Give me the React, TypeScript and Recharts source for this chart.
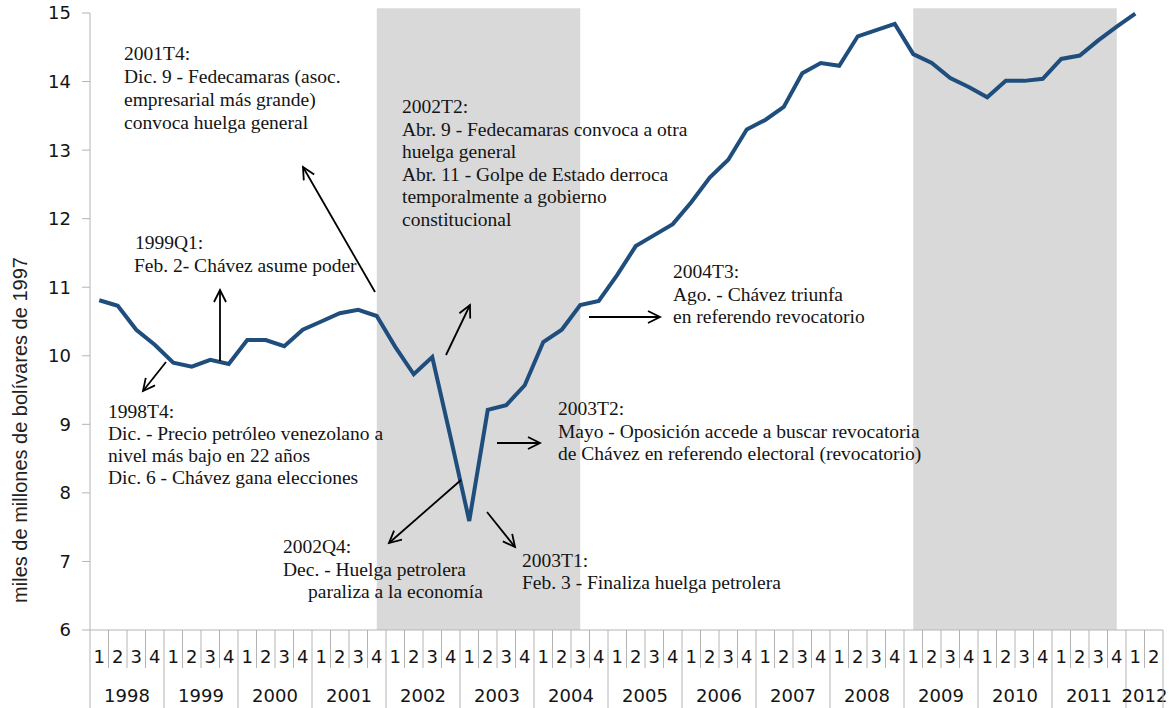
import React from 'react';
import { LineChart, Line, XAxis, YAxis, ReferenceArea } from 'recharts';

const years = [1998, 1999, 2000, 2001, 2002, 2003, 2004, 2005, 2006, 2007, 2008, 2009, 2010, 2011, 2012];
const quartersPerYear = [4, 4, 4, 4, 4, 4, 4, 4, 4, 4, 4, 4, 4, 4, 2];
const categories: string[] = years.flatMap((y, i) =>
  Array.from({ length: quartersPerYear[i] }, (_, q) => `${y}Q${q + 1}`)
);

const gdp: (number | null)[] = [
  10.81, 10.73, 10.38, 10.16,
  9.9, 9.84, 9.94, 9.88,
  10.23, 10.23, 10.14, 10.38,
  10.5, 10.62, 10.67, 10.58,
  10.13, 9.73, 9.98, 8.8,
  7.59, 9.21, 9.28, 9.57,
  10.2, 10.38, 10.74, 10.8,
  11.18, 11.6, 11.76, 11.92,
  12.24, 12.6, 12.86, 13.3,
  13.44, 13.63, 14.12, 14.27,
  14.23, 14.66, 14.75, 14.84,
  14.4, 14.27, 14.05, 13.92,
  13.77, 14.01, 14.01, 14.04,
  14.33, 14.38, 14.6, 14.8,
  14.99, null,
];

const yTicks = [6, 7, 8, 9, 10, 11, 12, 13, 14, 15];

// shaded periods
const shaded = [
  { from: '2001Q4', to: '2004Q3' },
  { from: '2009Q1', to: '2011Q4' },
];

const data = categories.map((period, i) => ({ period, gdp: gdp[i] }));

const WIDTH = 1172;
const HEIGHT = 708;
const Y_AXIS_W = 90;
const MARGIN = { top: 13, right: 9, left: 0, bottom: 0 };
const STEP = (WIDTH - Y_AXIS_W - MARGIN.right) / categories.length;
const GRID = '#b4b4b4';
const TEXT = '#141414';
const SANS = '"DejaVu Sans", Verdana, sans-serif';
const SERIF = '"Liberation Serif", "Times New Roman", serif';

const QuarterTick = (props: any) => {
  const { x, y, payload } = props;
  const idx = payload.index ?? props.index;
  const v: string = payload.value;
  return (
    <g>
      <line x1={x - STEP / 2} x2={x - STEP / 2} y1={y} y2={y + 38} stroke={GRID} />
      {idx === categories.length - 1 && (
        <line x1={x + STEP / 2} x2={x + STEP / 2} y1={y} y2={y + 38} stroke={GRID} />
      )}
      <text x={x} y={y + 33} textAnchor="middle" fontFamily={SANS} fontSize={18} fill={TEXT}>
        {v.slice(-1)}
      </text>
    </g>
  );
};

const YearTick = (props: any) => {
  const { x, y, payload } = props;
  const idx = payload.index ?? props.index;
  const v: string = payload.value;
  const year = Number(v.slice(0, 4));
  const n = quartersPerYear[years.indexOf(year)];
  const first = v.endsWith('Q1');
  return (
    <g>
      {first && <line x1={x - STEP / 2} x2={x - STEP / 2} y1={y} y2={y + 40} stroke={GRID} />}
      {idx === categories.length - 1 && (
        <line x1={x + STEP / 2} x2={x + STEP / 2} y1={y} y2={y + 40} stroke={GRID} />
      )}
      {first && (
        <text x={x + (STEP * (n - 1)) / 2} y={y + 34} textAnchor="middle" fontFamily={SANS} fontSize={18} fill={TEXT}>
          {year}
        </text>
      )}
    </g>
  );
};

const Note = ({ x, y, lines, dy = 23 }: { x: number; y: number; lines: (string | [string, number])[]; dy?: number }) => (
  <text fontFamily={SERIF} fontSize={19.5} fill={TEXT}>
    {lines.map((l, i) => {
      const [t, off] = typeof l === 'string' ? [l, 0] : l;
      return (
        <tspan key={i} x={x + off} y={y + i * dy}>
          {t}
        </tspan>
      );
    })}
  </text>
);

const Arrow = ({ x1, y1, x2, y2 }: { x1: number; y1: number; x2: number; y2: number }) => (
  <line x1={x1} y1={y1} x2={x2} y2={y2} stroke="#000" strokeWidth={1.8} markerEnd="url(#openArrow)" />
);

// text + arrows drawn over the chart
const Annotations = () => (
  <svg
    width={WIDTH}
    height={HEIGHT}
    style={{ position: 'absolute', left: 0, top: 0, pointerEvents: 'none' }}
  >
    <defs>
      <marker id="openArrow" markerUnits="userSpaceOnUse" markerWidth={16} markerHeight={16} refX={13} refY={7} orient="auto">
        <path d="M1,1 L13,7 L1,13" fill="none" stroke="#000" strokeWidth={1.8} />
      </marker>
    </defs>
    <text
      transform="translate(27,430) rotate(-90)"
      textAnchor="middle"
      fontFamily='"Liberation Sans", Arial, sans-serif'
      fontSize={20}
      fill="#222"
    >
      miles de millones de bolívares de 1997
    </text>

    <Note x={124} y={60} lines={['2001T4:', 'Dic. 9 - Fedecamaras (asoc.', 'empresarial más grande)', 'convoca huelga general']} />
    <Note x={135} y={249} lines={['1999Q1:', ['Feb. 2- Chávez asume poder', -1]]} />
    <Note x={108} y={418} dy={22} lines={['1998T4:', 'Dic. - Precio petróleo venezolano a', 'nivel más bajo en 22 años', 'Dic. 6 - Chávez gana elecciones']} />
    <Note x={402} y={113} dy={22.5} lines={['2002T2:', 'Abr. 9 - Fedecamaras convoca a otra', 'huelga general', 'Abr. 11 - Golpe de Estado derroca', 'temporalmente a gobierno', 'constitucional']} />
    <Note x={673} y={278} dy={22.5} lines={['2004T3:', 'Ago. - Chávez triunfa', 'en referendo revocatorio']} />
    <Note x={558} y={415} dy={22.5} lines={['2003T2:', 'Mayo - Oposición accede a buscar revocatoria', 'de Chávez en referendo electoral (revocatorio)']} />
    <Note x={283} y={553} dy={22.5} lines={['2002Q4:', 'Dec. - Huelga petrolera', ['paraliza a la economía', 25]]} />
    <Note x={522} y={567} dy={21.5} lines={['2003T1:', 'Feb. 3 - Finaliza huelga petrolera']} />

    <Arrow x1={375} y1={292} x2={303} y2={167} />
    <Arrow x1={220} y1={361} x2={220} y2={290} />
    <Arrow x1={166} y1={362} x2={143} y2={391} />
    <Arrow x1={446} y1={355} x2={470} y2={305} />
    <Arrow x1={589} y1={317} x2={660} y2={317} />
    <Arrow x1={497} y1={443} x2={540} y2={443} />
    <Arrow x1={461} y1={480} x2={389} y2={543} />
    <Arrow x1={487} y1={512} x2={515} y2={547} />
  </svg>
);

export default function App() {
  return (
    <div style={{ position: 'absolute', left: 0, top: 0, width: WIDTH, height: HEIGHT, background: '#fff' }}>
      <LineChart width={WIDTH} height={HEIGHT} data={data} margin={MARGIN}>
        {shaded.map((s) => (
          <ReferenceArea
            key={s.from}
            x1={s.from}
            x2={s.to}
            y1={6}
            y2={15.07}
            ifOverflow="visible"
            fill="#d9d9d9"
            fillOpacity={1}
            stroke="none"
          />
        ))}
        <XAxis
          dataKey="period"
          interval={0}
          height={38}
          padding={{ left: STEP / 2, right: STEP / 2 }}
          axisLine={{ stroke: GRID }}
          tickLine={false}
          tickSize={0}
          tickMargin={0}
          tick={<QuarterTick />}
        />
        <XAxis
          xAxisId="year"
          dataKey="period"
          interval={0}
          height={40}
          padding={{ left: STEP / 2, right: STEP / 2 }}
          axisLine={false}
          tickLine={false}
          tickSize={0}
          tickMargin={0}
          tick={<YearTick />}
        />
        <YAxis
          domain={[6, 15]}
          ticks={yTicks}
          interval={0}
          width={Y_AXIS_W}
          axisLine={{ stroke: GRID }}
          tickLine={{ stroke: GRID }}
          tickSize={8}
          tickMargin={11}
          tick={{ fill: TEXT, fontSize: 18, fontFamily: SANS }}
        />
        <Line
          type="linear"
          dataKey="gdp"
          stroke="#1f4e7d"
          strokeWidth={4}
          dot={false}
          isAnimationActive={false}
        />
      </LineChart>
      <Annotations />
    </div>
  );
}
